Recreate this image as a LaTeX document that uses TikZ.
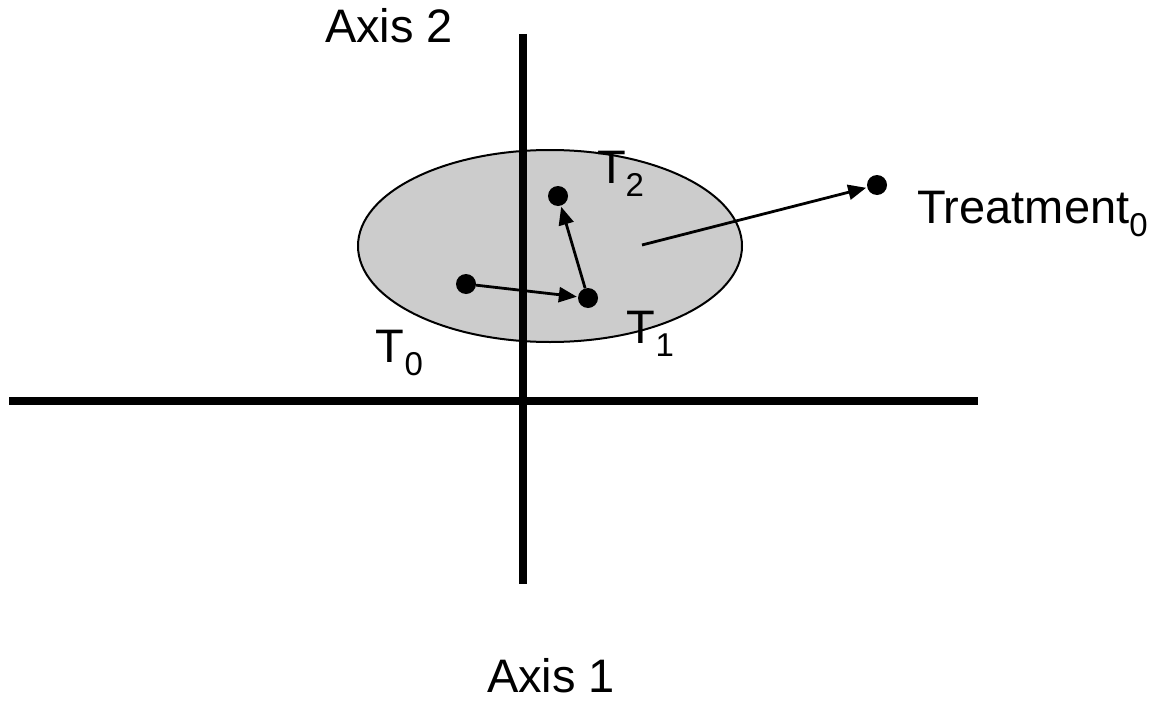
\documentclass[tikz,border=0pt]{standalone}
\usepackage{fontspec}
\setmainfont{Liberation Sans}
\usetikzlibrary{arrows.meta,shapes.geometric}
\newcommand{\lbl}[1]{\fontsize{47}{50}\selectfont #1}
\newcommand{\sbs}[1]{\raisebox{-13pt}{\fontsize{33}{36}\selectfont #1}}
\tikzset{
  axisline/.style={line width=7.5pt},
  cloud/.style={draw, line width=2pt, fill=black!20},
  dotpt/.style={circle, fill=black, inner sep=0pt, minimum size=20pt},
  arr/.style={line width=2.8pt, -{Triangle[length=18pt,width=15pt]}, shorten >=1pt},
  txt/.style={anchor=base west, inner sep=0pt, outer sep=0pt}
}
\begin{document}
\begin{tikzpicture}[x=1pt,y=-1pt]
\useasboundingbox (0,0) rectangle (1153,701);
% ellipse
\node[cloud, ellipse, minimum width=384pt, minimum height=192pt, inner sep=0pt] (cl) at (550,246) {};
% axes
\coordinate (vtop) at (523,34);
\coordinate (vbot) at (523,584);
\coordinate (hl) at (9,401);
\coordinate (hr) at (978,401);
\draw[axisline] (vtop) -- (vbot);
\draw[axisline] (hl) -- (hr);
% dots
\node[dotpt] (t0) at (466,284) {};
\node[dotpt] (t1) at (588,298) {};
\node[dotpt] (t2) at (558,196) {};
\node[dotpt] (tr) at (877,185) {};
\coordinate (c0) at (642,245);
% arrows
\draw[arr] (t0) -- (t1);
\draw[arr] (t1) -- (t2);
\draw[arr] (c0) -- (tr);
% labels
\node[txt] (ax2) at (325,43) {\lbl{Axis 2}};
\node[txt] (ax1) at (487,692) {\lbl{Axis 1}};
\node[txt] (l2) at (597,183) {\lbl{T\kern0pt\sbs{2}}};
\node[txt] (l1) at (626,343) {\lbl{T\kern1pt\sbs{1}}};
\node[txt] (l0) at (375,362) {\lbl{T\kern1pt\sbs{0}}};
\node[txt] (ltr) at (917,223) {\lbl{Treatment\sbs{0}}};
\end{tikzpicture}
\end{document}
